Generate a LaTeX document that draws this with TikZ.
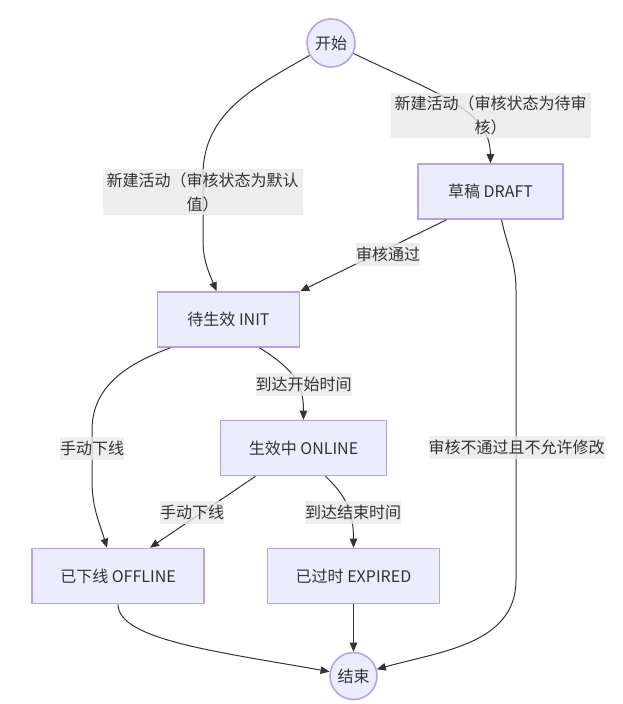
\documentclass[tikz,border=0pt]{standalone}
\usepackage{fontspec}
\setmainfont{Noto Sans CJK SC}
\usepackage{tikz}
\usetikzlibrary{arrows.meta}
\definecolor{nodefill}{HTML}{ECECFF}
\definecolor{nodeline}{HTML}{B7A2EA}
\definecolor{linegray}{HTML}{333333}
\definecolor{labelbg}{HTML}{E8E8E8}
\definecolor{txtgray}{HTML}{333333}

\begin{document}
\begin{tikzpicture}[x=1pt,y=-1pt,>={Stealth[length=9pt,width=7.5pt,inset=0pt]},
  every node/.style={font=\fontsize{16}{24}\selectfont,text=txtgray},
  stbox/.style={draw=nodeline,fill=nodefill,line width=1.6pt,minimum height=55pt,inner sep=0pt},
  endpt/.style={stbox,circle},
  lbl/.style={fill=labelbg,fill opacity=0.8,text opacity=1,inner xsep=0pt,inner ysep=3pt,minimum height=23pt,align=center},
  conn/.style={draw=linegray,line width=1pt,->}]
\useasboundingbox (0,0) rectangle (623,704);
\node[endpt,minimum size=48pt] (s) at (331,43) {开始};
\node[stbox,minimum width=145pt] (dr) at (490.5,191.5) {草稿 DRAFT};
\node[stbox,minimum width=142pt] (ini) at (228.5,319.5) {待生效 INIT};
\node[stbox,minimum width=166pt] (onl) at (303.5,448) {生效中 ONLINE};
\node[stbox,minimum width=172pt] (off) at (118,576) {已下线 OFFLINE};
\node[stbox,minimum width=172pt] (exd) at (353.5,576) {已过时 EXPIRED};
\node[endpt,minimum size=47pt] (e) at (353.5,676) {结束};

\draw[conn] (s) to[out=210,in=90] (203,175) -- (203,240) to[out=270,in=112] ([xshift=-12pt]ini.north);
\draw[conn] (s.-25) .. controls (440,95) and (490,110) .. (dr.north);
\draw[conn] ([xshift=-44pt]dr.south) -- (ini.north east);
\draw[conn] ([xshift=11pt]dr.south) to[out=-78,in=90] (516,290) -- (516,580) to[out=270,in=16] (e);
\draw[conn] ([xshift=31pt]ini.south) .. controls (295,370) and (303.5,385) .. (onl.north);
\draw[conn] ([xshift=-58pt]ini.south) to[out=200,in=90] (92,430) -- (92,480) to[out=270,in=107] ([xshift=-11pt]off.north);
\draw[conn] ([xshift=-48pt]onl.south) -- ([xshift=32pt]off.north);
\draw[conn] ([xshift=22pt]onl.south) .. controls (345,495) and (353.5,510) .. (exd.north);
\draw[conn] (off.south) .. controls (118,640) and (220,652) .. (e);
\draw[conn] (exd) -- (e);

\node[lbl,text width=200pt] (la) at (202.5,192) {新建活动（审核状态为默认\\值）};
\node[lbl,text width=200pt] (lb) at (490.5,115.5) {新建活动（审核状态为待审\\核）};
\node[lbl] (lc) at (388,254) {审核通过};
\node[lbl] (ld) at (516.5,447.5) {审核不通过且不允许修改};
\node[lbl] (le) at (303.5,384) {到达开始时间};
\node[lbl] (lf) at (92,448) {手动下线};
\node[lbl] (lg) at (192,512) {手动下线};
\node[lbl] (lh) at (353,512) {到达结束时间};
\end{tikzpicture}
\end{document}
